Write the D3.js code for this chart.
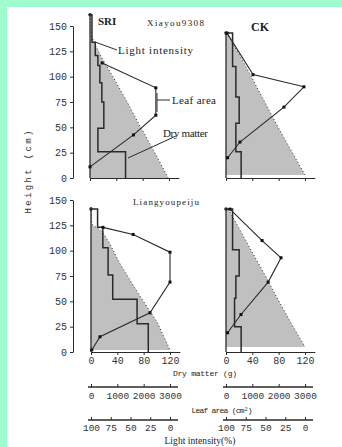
<!DOCTYPE html>
<html><head><meta charset="utf-8">
<script src="https://cdn.jsdelivr.net/npm/d3@7"></script>
<style>body{margin:0;background:#fff}svg{display:block}</style>
</head><body><svg id="c" width="342" height="447"></svg>
<script>
// ---- data ----
const heightTicks = [0, 25, 50, 75, 100, 125, 150];
const dryTicks = [0, 40, 80, 120];
const leafTicks = [0, 1000, 2000, 3000];
const lightTicks = [100, 75, 50, 25, 0];

// dry matter layers: [bottom cm, top cm, grams]
const dryTL = [[0,26,54],[26,49,12],[49,75,21],[75,94,18],[94,111,15],[111,121,12],[121,134,8],[134,161,3]];
const dryTR = [[0,26,23],[26,54,15],[54,80,20],[80,110,15],[110,143,10]];
const dryBL = [[0,28,87],[28,52,70],[52,76,33],[76,103,26],[103,123,18],[123,141,10]];
const dryBR = [[0,25,23],[25,53,13],[53,75,15],[75,101,20],[101,141,10]];

// leaf area: [height cm, cm2]
const leafTL = [[11,0],[42.5,1650],[62,2500],[89,2500],[113.5,460]];
const leafTR = [[20,60],[35.5,530],[70,2200],[90,2960],[102,1025],[143,40]];
const leafBL = [[2,30],[15,340],[38.7,2240],[69,3000],[98.5,3000],[116,1600],[123,455]];
const leafBR = [[19,60],[37,570],[69,1600],[93,2090],[110,1370],[141,150]];

// light intensity: [height cm, %]
const lightTL = [[161,100],[140,98],[134,95],[120,86],[100,71],[75,53],[50,36],[45,32],[25,18],[0,1]];
const lightTR = [[143,99],[120,82],[100,68],[75,51],[50,34],[25,16],[3,0]];
const lightBL = [[143,100],[126,99],[119,86],[108,77],[88,64],[60,42],[29,16],[2,0]];
const lightBR = [[141,97],[120,82],[100,68],[75,50],[50,33],[25,15],[5,0]];

// ---- layout ----
const svg = d3.select("#c");
svg.append("rect").attr("width",342).attr("height",447).attr("fill","#fff");
svg.append("rect").attr("x",0).attr("y",0).attr("width",342).attr("height",7).attr("fill","#9ffccf");
svg.append("rect").attr("x",0).attr("y",0).attr("width",7).attr("height",447).attr("fill","#9ffccf");

const panels = [
  {x0:90, y0:178, dry:dryTL, leaf:leafTL, light:lightTL, labels:false, yaxis:true},
  {x0:226, y0:178, dry:dryTR, leaf:leafTR, light:lightTR, labels:false, yaxis:false},
  {x0:91, y0:352, dry:dryBL, leaf:leafBL, light:lightBL, labels:true, yaxis:true},
  {x0:226, y0:352, dry:dryBR, leaf:leafBR, light:lightBR, labels:true, yaxis:false}
];
const W = 79, H = 152;
const ink = "#2a2a2a";
const mono = "'Liberation Mono', 'DejaVu Sans Mono', monospace";
const serif = "'Liberation Serif', 'DejaVu Serif', serif";

panels.forEach((p, i) => {
  const x = d3.scaleLinear().domain([0,120]).range([p.x0, p.x0+W]);
  const xl = d3.scaleLinear().domain([0,3000]).range([p.x0, p.x0+W]);
  const xi = d3.scaleLinear().domain([100,0]).range([p.x0, p.x0+W]);
  const y = d3.scaleLinear().domain([0,150]).range([p.y0, p.y0-H]);
  const g = svg.append("g");

  // light intensity area
  g.append("path").datum(p.light)
    .attr("d", d3.area().x0(p.x0).x1(d=>xi(d[1])).y(d=>y(d[0])))
    .attr("fill","#c0c0c0");
  g.append("path").datum(p.light)
    .attr("d", d3.line().x(d=>xi(d[1])).y(d=>y(d[0])))
    .attr("fill","none").attr("stroke",ink).attr("stroke-width",1).attr("stroke-dasharray","1,2.5");

  // left vertical line
  const topH = d3.max(p.dry, d=>d[1]);
  g.append("line").attr("x1",p.x0).attr("x2",p.x0).attr("y1",y(0)).attr("y2",y(topH))
    .attr("stroke",ink).attr("stroke-width",1.3);
  g.append("circle").attr("cx",p.x0).attr("cy",y(topH)).attr("r",1.8).attr("fill",ink);

  // dry matter steps
  const pts = [];
  p.dry.forEach(d => { pts.push([d[2], d[0]]); pts.push([d[2], d[1]]); });
  pts.push([0, topH]);
  g.append("path").datum(pts)
    .attr("d", d3.line().x(d=>x(d[0])).y(d=>y(d[1])))
    .attr("fill","none").attr("stroke",ink).attr("stroke-width",1.5);

  // leaf area
  g.append("path").datum(p.leaf)
    .attr("d", d3.line().x(d=>xl(d[1])).y(d=>y(d[0])))
    .attr("fill","none").attr("stroke",ink).attr("stroke-width",1.1);
  g.selectAll(".lp").data(p.leaf).enter().append("rect")
    .attr("x",d=>xl(d[1])-1.5).attr("y",d=>y(d[0])-1.5).attr("width",3).attr("height",3).attr("fill","#111");

  // x axis (dry matter)
  const xe = d3.scaleLinear().domain([0,135]).range([p.x0, p.x0+W*135/120]);
  const ax = g.append("g").attr("transform",`translate(0,${p.y0})`)
    .call(d3.axisBottom(xe).tickValues(dryTicks).tickSize(3).tickSizeOuter(0).tickPadding(1.5)
      .tickFormat(p.labels ? d3.format("d") : ""));
  ax.selectAll("path,line").attr("stroke",ink);
  ax.selectAll("text").attr("font-family",mono).attr("font-size",10).attr("fill","#333");

  // y axis
  if (p.yaxis) {
    const ay = g.append("g").attr("transform","translate(73,0)")
      .call(d3.axisLeft(y).tickValues(heightTicks).tickSize(3).tickSizeOuter(0).tickPadding(3));
    ay.selectAll("path,line").attr("stroke",ink);
    ay.selectAll("text").attr("font-family",mono).attr("font-size",10).attr("fill","#333");
  }

  // extra axes under bottom panels
  if (p.labels) {
    [[xl, leafTicks, 387, 5, 9.5], [xi, lightTicks, 420, 4.5, 9.5]].forEach(([sc, tv, yy, pad, fs]) => {
      const a = g.append("g").attr("transform",`translate(0,${yy})`)
        .call(d3.axisBottom(sc).tickValues(tv).tickSize(-3).tickSizeOuter(0).tickPadding(pad).tickFormat(d3.format("d")));
      a.select(".domain").remove();
      a.append("line").attr("x1",p.x0-3).attr("x2",p.x0+87).attr("stroke",ink).attr("stroke-width",1.3);
      a.selectAll("line").attr("stroke",ink);
      a.selectAll("text").attr("font-family",mono).attr("font-size",fs).attr("fill","#333");
    });
  }
});

// panel titles
const txt = (s, x, y, opts={}) => svg.append("text").attr("x",x).attr("y",y)
  .attr("font-family",opts.font||serif).attr("font-size",opts.size||10)
  .attr("font-weight",opts.weight||"normal").attr("fill",opts.fill||"#222")
  .attr("text-anchor",opts.anchor||"start").text(s);

txt("SRI", 98, 25, {size:11, weight:"bold"});
txt("CK", 251, 31, {size:12, weight:"bold"});
txt("Xiayou9308", 147, 26, {size:9}).attr("textLength",57);
txt("Liangyoupeiju", 133, 205, {size:9}).attr("textLength",66);

// annotations in first panel
txt("Light intensity", 118, 54, {size:11}).attr("textLength",75);
txt("Leaf area", 172, 104, {size:11}).attr("textLength",44);
txt("Dry matter", 163, 137, {size:11}).attr("textLength",45);
const ann = [[95,42,117,50],[157,93,157,112],[157,100,170,100],[128,158,176,136]];
svg.selectAll(".ann").data(ann).enter().append("line")
  .attr("x1",d=>d[0]).attr("y1",d=>d[1]).attr("x2",d=>d[2]).attr("y2",d=>d[3])
  .attr("stroke",ink).attr("stroke-width",1);

// axis titles
txt("Dry matter (g)", 205, 376, {font:mono, size:8, anchor:"middle"}).attr("textLength",64);
txt("Leaf area (cm\u00b2)", 222, 413, {font:mono, size:8, anchor:"middle"}).attr("textLength",61);
txt("Light intensity(%)", 200, 444, {size:9.5, anchor:"middle"}).attr("textLength",71);
svg.append("text").attr("transform","translate(31,172) rotate(-90)")
  .attr("font-family",mono).attr("font-size",9).attr("fill","#333").attr("text-anchor","middle")
  .attr("textLength",83).text("Height  (cm)");
</script></body></html>
